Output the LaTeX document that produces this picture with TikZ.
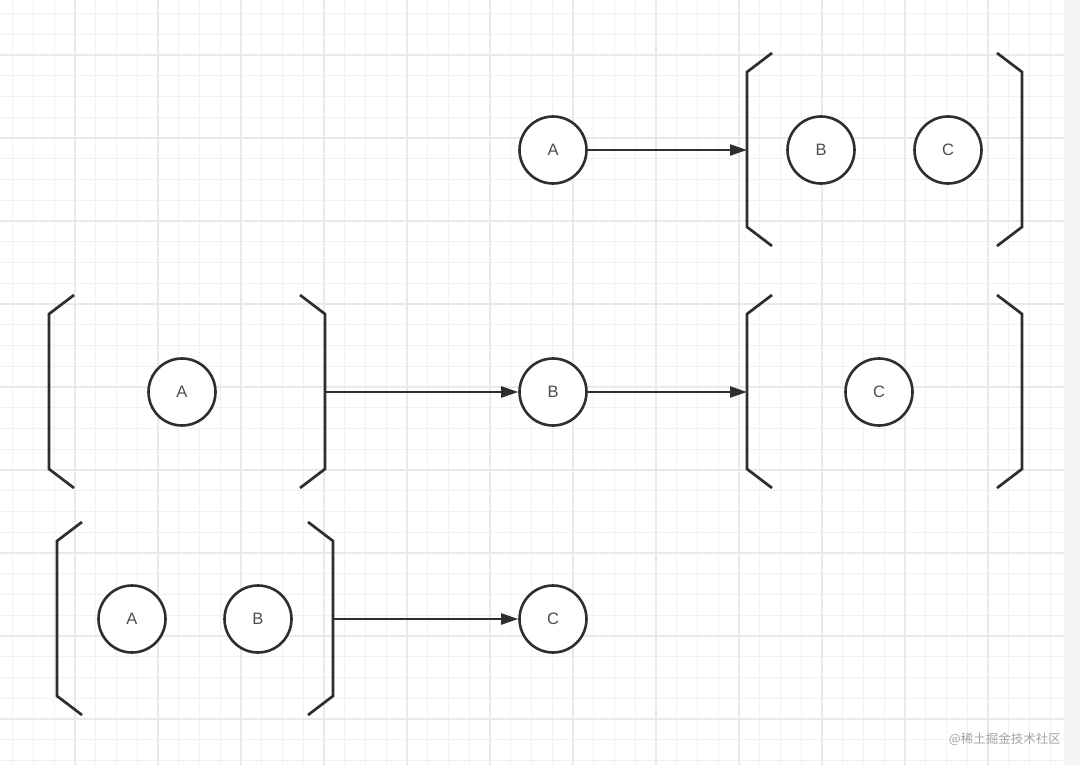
\documentclass[tikz,border=0pt]{standalone}
\usepackage{fontspec}
\setmainfont{Liberation Sans}
\newfontfamily\cjkfont{Noto Sans CJK SC}
\usetikzlibrary{arrows.meta}
\definecolor{ink}{HTML}{2E2E2E}
\definecolor{gminor}{HTML}{F1F1F1}
\definecolor{gmajor}{HTML}{E9E9E9}
\definecolor{strip}{HTML}{F5F5F5}
\definecolor{wm}{HTML}{A3A3A3}
\tikzset{
  state/.style={circle,draw=ink,line width=2.6pt,fill=white,minimum size=67pt,inner sep=0pt,
    font=\fontsize{16.5}{16.5}\selectfont,text=ink!85},
  bracketline/.style={draw=ink,line width=2.7pt,line join=miter},
  arr/.style={draw=ink,line width=2.3pt,-{Triangle[length=17pt,width=11pt]}},
  gridminor/.style={draw=gminor,line width=1.2pt},
  gridmajor/.style={draw=gmajor,line width=1.5pt},
}
\begin{document}
\begin{tikzpicture}[x=1pt,y=-1pt]
\useasboundingbox (0,0) rectangle (1080,765);
\fill[white] (0,0) rectangle (1080,765);
\fill[strip] (1064,0) rectangle (1080,765);
% grid
\foreach \i in {0,...,50}{\draw[gridminor] ({12.75+20.75*\i},0) -- ({12.75+20.75*\i},765);}
\foreach \j in {0,...,36}{\draw[gridminor] (0,{13.5+20.75*\j}) -- (1064,{13.5+20.75*\j});}
\foreach \i in {0,...,11}{\draw[gridmajor] ({75+83*\i},0) -- ({75+83*\i},765);}
\foreach \j in {0,...,8}{\draw[gridmajor] (0,{55+83*\j}) -- (1064,{55+83*\j});}

% brackets: \bracketpair{xl}{xr}{ytop}{ybot}
\newcommand{\bracketpair}[4]{%
  \draw[bracketline] ({#1+25},{#3}) -- (#1,{#3+19}) -- (#1,{#4-19}) -- ({#1+25},#4);
  \draw[bracketline] ({#2-25},{#3}) -- (#2,{#3+19}) -- (#2,{#4-19}) -- ({#2-25},#4);
}
\bracketpair{747}{1022}{53}{246}
\bracketpair{49}{325}{295}{488}
\bracketpair{747}{1022}{295}{488}
\bracketpair{57}{333}{522}{715}

% coordinates on brackets
\coordinate (b1in) at (747,150);
\coordinate (b2out) at (325,392);
\coordinate (b3in) at (747,392);
\coordinate (b4out) at (333,619);

% top row
\node[state] (a1) at (553,150) {A};
\node[state] (b1) at (821,150) {B};
\node[state] (c1) at (948,150) {C};
% middle row
\node[state] (a2) at (182,392) {A};
\node[state] (b2) at (553,392) {B};
\node[state] (c2) at (879,392) {C};
% bottom row
\node[state] (a3) at (132,619) {A};
\node[state] (b3) at (258,619) {B};
\node[state] (c3) at (553,619) {C};

\draw[arr] (a1) -- (b1in);
\draw[arr] (b2out) -- (b2);
\draw[arr] (b2) -- (b3in);
\draw[arr] (b4out) -- (c3);

\node[anchor=east,inner sep=0pt,text=wm,font=\cjkfont\fontsize{12.5}{12.5}\selectfont] (wmk) at (1061,739) {@稀土掘金技术社区};
\end{tikzpicture}
\end{document}
